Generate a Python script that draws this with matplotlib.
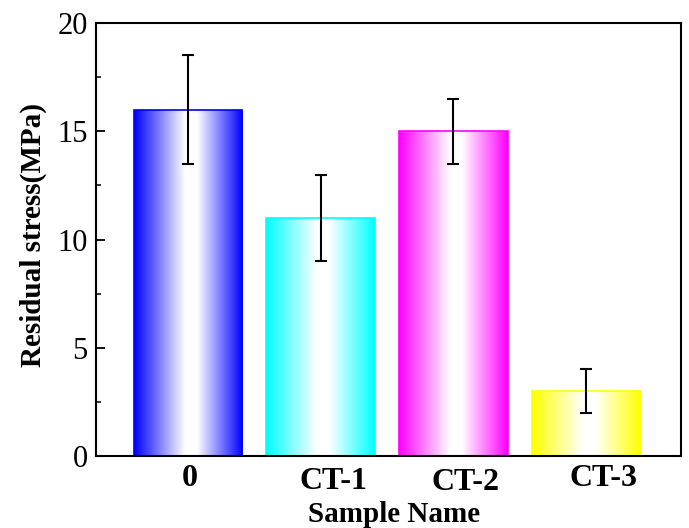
import numpy as np
import matplotlib
matplotlib.use('Agg')
import matplotlib.pyplot as plt
from matplotlib.colors import LinearSegmentedColormap
from matplotlib.ticker import MultipleLocator
import matplotlib.transforms as mtransforms

# data
samples = ['0', 'CT-1', 'CT-2', 'CT-3']
stress = [16.0, 11.0, 15.0, 3.0]
stress_err = [2.5, 2.0, 1.5, 1.0]
bar_colors = ['#0000ff', '#00ffff', '#ff00ff', '#ffff00']

plt.rcParams['font.family'] = ['Liberation Serif', 'DejaVu Serif']

fig = plt.figure(figsize=(6.89, 5.28), dpi=100)
ax = fig.add_axes([0.1393, 0.1364, 0.849, 0.820])

x = np.arange(len(samples))
bars = ax.bar(x, stress, width=0.82, color='none', edgecolor=bar_colors, linewidth=1.2, zorder=2)

# fill each bar with a colour -> white -> colour horizontal gradient
grad = np.linspace(0, 1, 256).reshape(1, -1)
for b, c in zip(bars, bar_colors):
    cmap = LinearSegmentedColormap.from_list('g', [(0, c), (0.47, 'white'), (0.58, 'white'), (1, c)])
    x0, y0 = b.get_x(), b.get_y()
    im = ax.imshow(grad, cmap=cmap, aspect='auto', extent=[x0, x0 + b.get_width(), y0, y0 + b.get_height()],
                   zorder=1, interpolation='bicubic')
    im.set_clip_path(b)

ax.errorbar(x, stress, yerr=stress_err, fmt='none', ecolor='black', elinewidth=1.5,
            capsize=4, capthick=1.5, zorder=3)

ax.set_xlim(-0.693, 3.715)
ax.set_ylim(0, 20)
ax.yaxis.set_major_locator(MultipleLocator(5))
ax.yaxis.set_minor_locator(MultipleLocator(2.5))
ax.tick_params(axis='y', which='major', direction='in', length=6.5, width=1.3, labelsize=22, pad=6)
ax.tick_params(axis='y', which='minor', direction='in', length=3.5, width=1.1)
ax.tick_params(axis='x', length=0, pad=6)
ax.set_xticks(x)
ax.set_xticklabels(samples, fontsize=23, fontweight='bold')

# the sample labels sit a little uneven in the original (pixel shifts)
label_shift = [(1.5, 0), (13, -3), (12, -4), (17, 0)]
for lab, (dx, dy) in zip(ax.get_xticklabels(), label_shift):
    lab.set_transform(lab.get_transform() + mtransforms.ScaledTranslation(dx / 100, dy / 100, fig.dpi_scale_trans))

for s in ax.spines.values():
    s.set_linewidth(1.5)

ax.set_ylabel('Residual stress(MPa)', fontsize=21, fontweight='bold')
ax.yaxis.set_label_coords(-0.084, 0.51)
ax.set_xlabel('Sample Name', fontsize=21, fontweight='bold')
ax.xaxis.set_label_coords(0.510, -0.103)

fig.savefig('out.png', dpi=100)
